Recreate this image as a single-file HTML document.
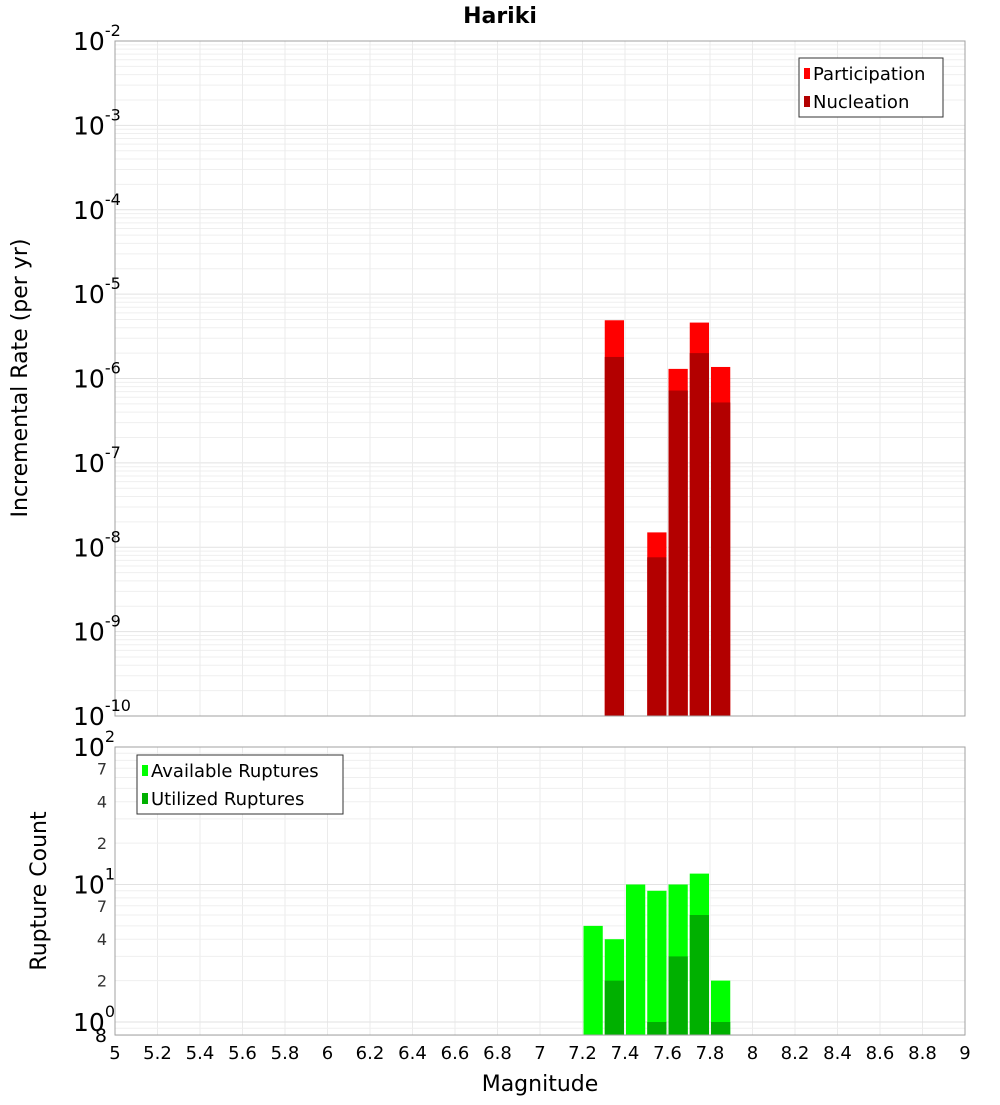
<!DOCTYPE html>
<html><head><meta charset="utf-8"><style>
body{margin:0;background:#fff;}
svg text{font-family:"DejaVu Sans","Liberation Sans",sans-serif;}
</style></head><body>
<svg id="c" width="1000" height="1100" xmlns="http://www.w3.org/2000/svg">
<rect width="1000" height="1100" fill="#fff"/>
<text x="500" y="23" text-anchor="middle" font-size="22" font-weight="bold">Hariki</text>
<g id="gtop"></g><g id="gbot"></g>
<text transform="translate(27,378) rotate(-90)" text-anchor="middle" font-size="22">Incremental Rate (per yr)</text>
<text transform="translate(46,891) rotate(-90)" text-anchor="middle" font-size="22">Rupture Count</text>
<text x="540" y="1091" text-anchor="middle" font-size="22">Magnitude</text>
</svg>
<script>
const magBinsTop=[7.35,7.55,7.65,7.75,7.85];
const participation=[4.9e-6,1.5e-8,1.3e-6,4.6e-6,1.37e-6];
const nucleation=[1.8e-6,7.6e-9,7.2e-7,2.0e-6,5.2e-7];
const magBinsBot=[7.25,7.35,7.45,7.55,7.65,7.75,7.85];
const available=[5,4,10,9,10,12,2];
const utilized=[0,2,0,1,3,6,1];
const xTicks=["5","5.2","5.4","5.6","5.8","6","6.2","6.4","6.6","6.8","7","7.2","7.4","7.6","7.8","8","8.2","8.4","8.6","8.8","9"];
const topExps=[-2,-3,-4,-5,-6,-7,-8,-9,-10];
const botMinor=[7,4,2];

const NS="http://www.w3.org/2000/svg";
const L=115,R=965;
const X=v=>L+(v-5)/4*(R-L);
const T0=41,T1=716,Yt=v=>T0+(-2-Math.log10(v))/8*(T1-T0);
const B0=747,B1=1035,DEC=137.5,Yb=v=>B0+(2-Math.log10(v))*DEC;
function mk(p,tag,a,txt){const e=document.createElementNS(NS,tag);for(const k in a)e.setAttribute(k,a[k]);if(txt!==undefined)e.textContent=txt;p.appendChild(e);return e;}
const gTop=document.getElementById('gtop'),gBot=document.getElementById('gbot');

for(let d=-10;d<-2;d++)for(let m=1;m<10;m++){const y=Yt(m*Math.pow(10,d));const g=mk(gTop,'line',{x1:L,x2:R,y1:y,y2:y,stroke:m==1?'#e2e2e2':'#efefef','stroke-width':1});

}
for(let i=0;i<xTicks.length;i++){const x=X(+xTicks[i]);for(const [a,b,p] of [[T0,T1,gTop],[B0,B1,gBot]]){const g=mk(p,'line',{x1:x,x2:x,y1:a,y2:b,stroke:'#ebebeb'});

}}
for(let d=-1;d<2;d++)for(let m=1;m<10;m++){const v=m*Math.pow(10,d);if(v<0.8)continue;const y=Yb(v);const g=mk(gBot,'line',{x1:L,x2:R,y1:y,y2:y,stroke:m==1?'#e2e2e2':'#efefef'});

}

const bw=X(5.1)-X(5)-2;
magBinsTop.forEach((m,i)=>{const x=X(m)-bw/2;
let r=mk(gTop,'rect',{x:x,y:Yt(participation[i]),width:bw,height:T1-Yt(participation[i]),fill:'#ff0000'});


r=mk(gTop,'rect',{x:x,y:Yt(nucleation[i]),width:bw,height:T1-Yt(nucleation[i]),fill:'#b30000'});

});
magBinsBot.forEach((m,i)=>{const x=X(m)-bw/2;
let r=mk(gBot,'rect',{x:x,y:Yb(available[i]),width:bw,height:B1-Yb(available[i]),fill:'#00ff00'});


if(utilized[i]>0){r=mk(gBot,'rect',{x:x,y:Yb(utilized[i]),width:bw,height:B1-Yb(utilized[i]),fill:'#00b000'});

}});

let f=mk(gTop,'rect',{x:L,y:T0,width:R-L,height:T1-T0,fill:'none',stroke:'#a0a0a0'});


f=mk(gBot,'rect',{x:L,y:B0,width:R-L,height:B1-B0,fill:'none',stroke:'#a0a0a0'});



topExps.forEach(e=>{const y=Yt(Math.pow(10,e));const t=mk(gTop,'text',{x:73,y:y+9,'font-size':25});


mk(t,'tspan',{},'10');mk(t,'tspan',{dy:-14,'font-size':16},String(e));});
[2,1,0].forEach(e=>{const y=Yb(Math.pow(10,e));const t=mk(gBot,'text',{x:73,y:y+9,'font-size':25});


mk(t,'tspan',{},'10');mk(t,'tspan',{dy:-14,'font-size':16},String(e));});
[1,0].forEach(d=>botMinor.forEach(m=>{const y=Yb(m*Math.pow(10,d));const t=mk(gBot,'text',{x:107,y:y+6,'font-size':16,'text-anchor':'end',fill:'#333'},String(m));

}));
let t8=mk(gBot,'text',{x:107,y:1042,'font-size':19,'text-anchor':'end'},'8');


xTicks.forEach(s=>{const t=mk(gBot,'text',{x:X(+s),y:1059,'font-size':18,'text-anchor':'middle'},s);

});

function legend(p,x,y,w,items,name){const g=mk(p,'g',{});


mk(g,'rect',{x:x,y:y,width:w,height:59,fill:'#fff',stroke:'#333'});
items.forEach((it,i)=>{mk(g,'rect',{x:x+5,y:y+10+i*28,width:6,height:11,fill:it[1]});mk(g,'text',{x:x+14,y:y+22+i*28,'font-size':18},it[0]);});}
legend(gTop,799,58,144,[['Participation','#ff0000'],['Nucleation','#b30000']],'legend-top');
legend(gBot,137,755,206,[['Available Ruptures','#00ff00'],['Utilized Ruptures','#00b000']],'legend-bottom');
</script>
</body></html>
